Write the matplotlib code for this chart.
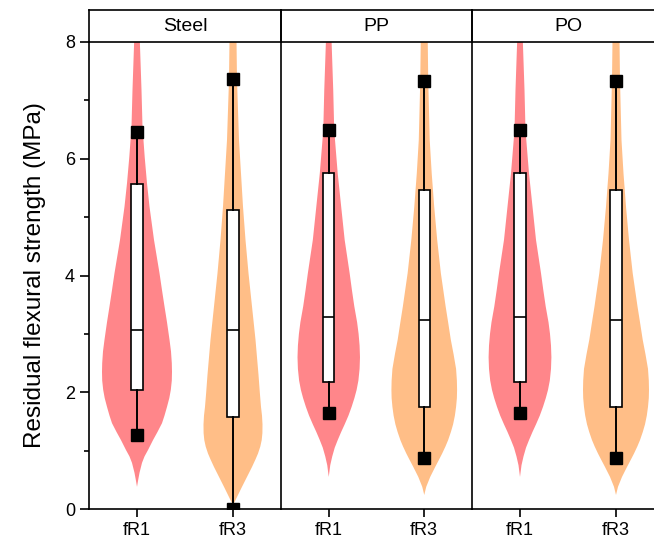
import numpy as np
import matplotlib
matplotlib.use("Agg")
import matplotlib.pyplot as plt

plt.rcParams['font.family'] = ['Liberation Sans', 'DejaVu Sans']

# ---------------- data ----------------
panels = ["Steel", "PP", "PO"]
categories = ["fR1", "fR3"]

# box statistics: [low marker, Q1, median, Q3, high marker]
steel_fr1_box = [1.26, 2.04, 3.07, 5.57, 6.46]
steel_fr3_box = [0.00, 1.57, 3.06, 5.12, 7.37]
pp_fr1_box = [1.65, 2.17, 3.29, 5.76, 6.50]
pp_fr3_box = [0.88, 1.74, 3.24, 5.46, 7.34]
po_fr1_box = [1.65, 2.17, 3.29, 5.76, 6.50]
po_fr3_box = [0.88, 1.74, 3.24, 5.46, 7.34]

# violin density profiles (value levels and relative density)
steel_fr1_levels = [0.38, 0.5, 0.62, 0.79, 0.9, 1.01, 1.18, 1.32, 1.47, 1.6, 1.75,
                    1.9, 2.04, 2.2, 2.35, 2.5, 2.7, 2.9, 3.2, 3.47, 3.75, 4.04,
                    4.61, 5.18, 5.58, 6.03, 6.55, 7.18, 8.03, 9.0]
steel_fr1_density = [0, 1.2, 2.5, 5, 7.5, 11, 16, 20.5, 25, 27.5, 30,
                     32.3, 33.8, 34.8, 35, 34.8, 34, 32.5, 30, 27.5, 25, 22.5,
                     17, 12.5, 10, 7.7, 5.5, 4.5, 2.8, 1.5]

steel_fr3_levels = [0.1, 0.24, 0.38, 0.55, 0.72, 0.85, 0.95, 1.07, 1.18, 1.3, 1.45,
                    1.6, 1.75, 2.0, 2.3, 2.6, 2.9, 3.47, 4.04, 4.61, 5.18, 5.75,
                    6.32, 7.35, 8.03, 9.0]
steel_fr3_density = [1, 5, 9, 14, 19, 22.5, 25, 27.3, 28.7, 29.4, 29.5,
                     29, 28, 26.8, 25.5, 24, 22.5, 19, 15.5, 12.5, 10, 8,
                     6, 4, 3.5, 2]

pp_fr1_levels = [0.55, 0.75, 0.9, 1.05, 1.18, 1.32, 1.45, 1.6, 1.75, 1.9, 2.04,
                 2.2, 2.4, 2.6, 2.8, 3.0, 3.2, 3.47, 3.75, 4.04, 4.61, 5.18,
                 5.75, 6.49, 7.18, 8.03, 9.0]
pp_fr1_density = [0, 1.5, 3.5, 6, 9, 12.5, 16, 19.8, 23, 25.8, 28,
                  29.8, 31, 31.4, 31, 30, 28.5, 25.7, 23.3, 21, 16, 12.5,
                  9, 5.5, 4.5, 2.8, 1.5]

pp_fr3_levels = [0.24, 0.38, 0.55, 0.72, 0.85, 0.95, 1.07, 1.18, 1.32, 1.45, 1.6,
                 1.75, 1.9, 2.04, 2.2, 2.4, 2.65, 2.9, 3.2, 3.47, 4.04, 4.61,
                 5.18, 5.75, 6.32, 7.35, 8.03, 9.0]
pp_fr3_density = [0, 2, 6, 11, 15, 18, 21.3, 24, 26.8, 29, 30.8,
                  32, 32.8, 33, 32.8, 32, 29.5, 26.7, 24, 21.5, 16.7, 13,
                  10, 7.5, 5.5, 4, 3.5, 2]

po_fr1_levels = pp_fr1_levels
po_fr1_density = pp_fr1_density
po_fr3_levels = pp_fr3_levels
po_fr3_density = pp_fr3_density

y_ticks = [0, 2, 4, 6, 8]
y_label = "Residual flexural strength (MPa)"

# ---------------- style ----------------
colors = ["#FF868A", "#FFBE87"]
PX_PER_UNIT = 96.0  # density units -> x data units
LW = 1.2

panel_data = [
    [(steel_fr1_levels, steel_fr1_density, steel_fr1_box),
     (steel_fr3_levels, steel_fr3_density, steel_fr3_box)],
    [(pp_fr1_levels, pp_fr1_density, pp_fr1_box),
     (pp_fr3_levels, pp_fr3_density, pp_fr3_box)],
    [(po_fr1_levels, po_fr1_density, po_fr1_box),
     (po_fr3_levels, po_fr3_density, po_fr3_box)],
]

W, H = 654, 543
fig = plt.figure(figsize=(W / 100, H / 100), dpi=100)

lefts_px = [89, 281, 472]
widths_px = [192, 191, 192]
bottom_px, top_px, head_top_px = 509, 42, 10

for i, (name, data) in enumerate(zip(panels, panel_data)):
    l = lefts_px[i] / W
    w = widths_px[i] / W
    ax = fig.add_axes([l, (H - bottom_px) / H, w, (bottom_px - top_px) / H])
    hax = fig.add_axes([l, (H - top_px) / H, w, (top_px - head_top_px) / H])
    ax.set_facecolor('none')
    hax.set_facecolor('none')

    positions = [1, 2]
    for j, (lev, dens, box) in enumerate(data):
        lev = np.asarray(lev, float)
        dens = np.asarray(dens, float)
        stats = [dict(coords=lev, vals=dens, mean=box[2], median=box[2],
                      min=lev.min(), max=lev.max())]
        vp = ax.violin(stats, positions=[positions[j]],
                       widths=[2 * dens.max() / PX_PER_UNIT],
                       showmeans=False, showextrema=False, showmedians=False)
        for b in vp['bodies']:
            b.set_facecolor(colors[j])
            b.set_edgecolor('none')
            b.set_alpha(1)
            b.set_zorder(1)

        bstats = [dict(whislo=box[0], q1=box[1], med=box[2], q3=box[3],
                       whishi=box[4], fliers=[])]
        ax.bxp(bstats, positions=[positions[j]], widths=0.12,
               showcaps=False, showfliers=False, patch_artist=True,
               boxprops=dict(facecolor='white', edgecolor='black', linewidth=LW),
               medianprops=dict(color='black', linewidth=LW),
               whiskerprops=dict(color='black', linewidth=1.4),
               manage_ticks=False, zorder=3)
        ax.plot([positions[j], positions[j]], [box[0], box[4]], ls='none',
                marker='s', ms=8.6, color='black', zorder=4)

    ax.set_xlim(0.5, 2.5)
    ax.set_ylim(0, 8)
    ax.set_xticks(positions)
    ax.set_xticklabels(categories, fontsize=13)
    ax.spines['top'].set_visible(False)
    for s in ax.spines.values():
        s.set_linewidth(LW)
        s.set_zorder(5)
    if i == 0:
        ax.set_yticks(y_ticks)
        ax.set_yticklabels([str(t) for t in y_ticks], fontsize=13)
        ax.set_yticks([1, 3, 5, 7], minor=True)
        ax.tick_params(axis='y', which='major', direction='out', length=6.5, width=LW)
        ax.tick_params(axis='y', which='minor', direction='out', length=3.5, width=LW)
        ax.set_ylabel(y_label, fontsize=17.5, labelpad=14)
    else:
        ax.spines['left'].set_visible(False)
        ax.set_yticks([])
    ax.tick_params(axis='x', direction='out', length=5.5, width=LW, pad=4)

    hax.set_xticks([])
    hax.set_yticks([])
    for s in hax.spines.values():
        s.set_linewidth(LW)
    hax.text(0.5, 0.47, name, ha='center', va='center', fontsize=14,
             transform=hax.transAxes)

fig.savefig("out.png", dpi=100)
